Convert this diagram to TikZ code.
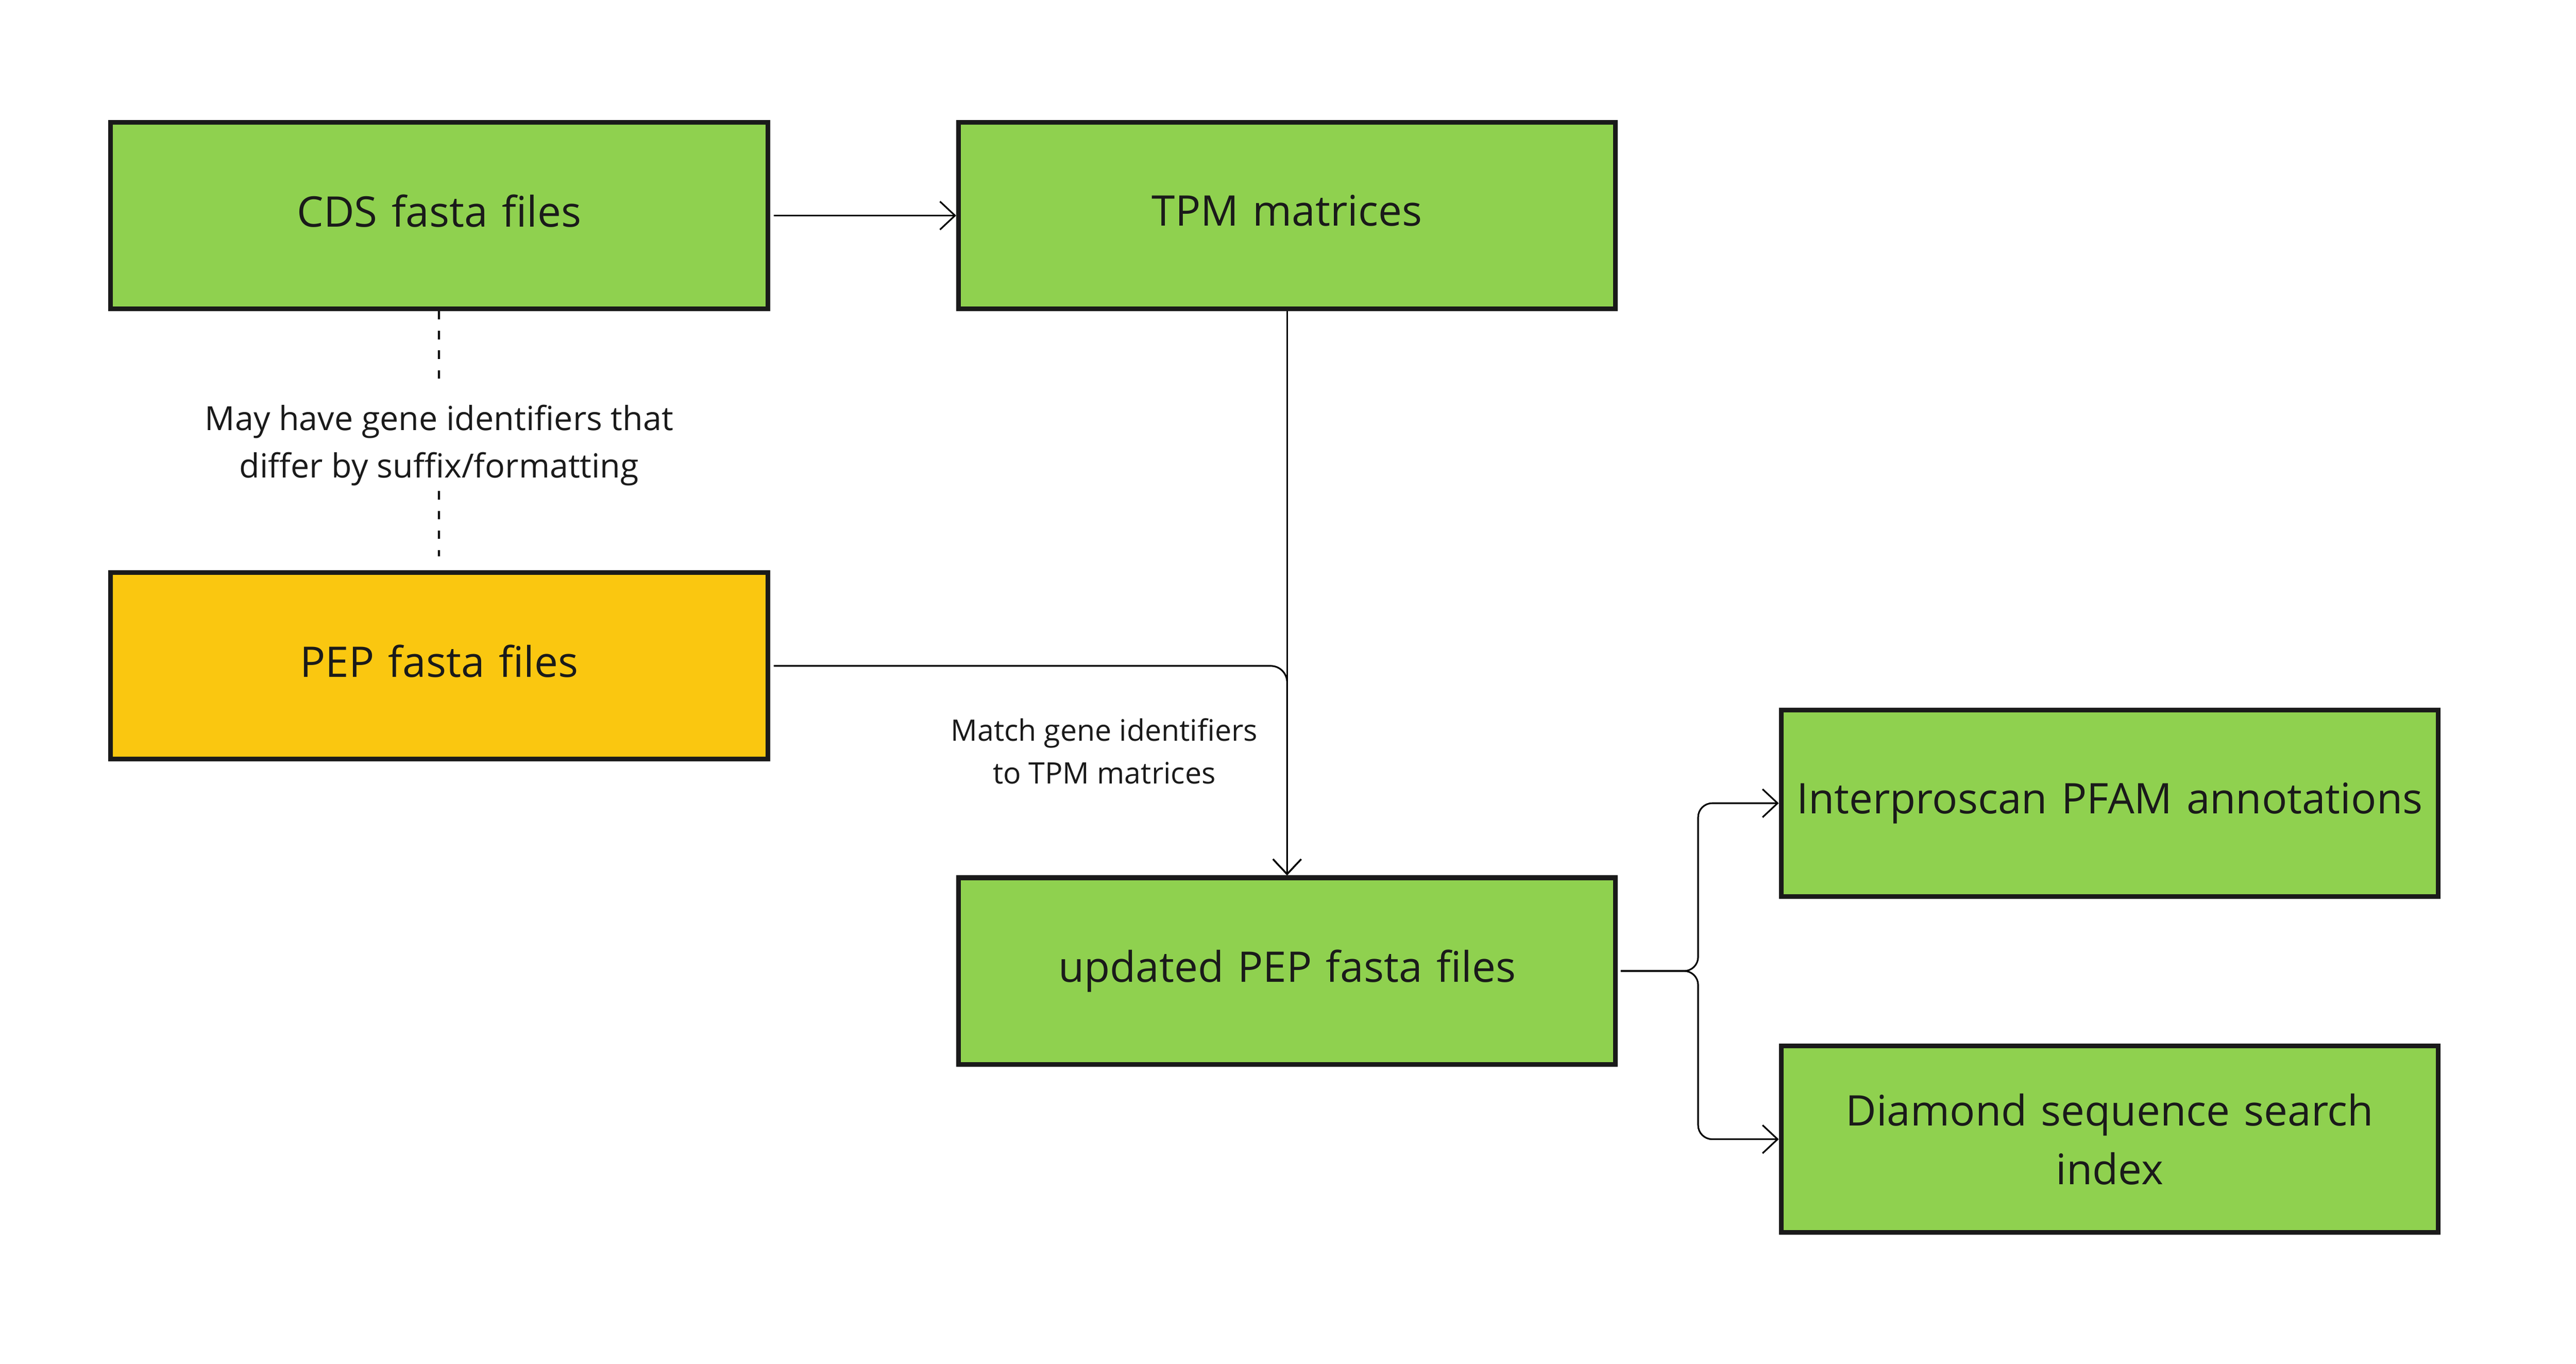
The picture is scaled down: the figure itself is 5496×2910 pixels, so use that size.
\documentclass[tikz,border=0pt]{standalone}
\usepackage{fontspec}
\setmainfont{Open Sans}
\usetikzlibrary{arrows.meta}
\definecolor{boxgreen}{HTML}{8FD14F}
\definecolor{boxyellow}{HTML}{FAC710}
\definecolor{ink}{HTML}{1A1A1A}
\tikzset{
  boxbase/.style={draw=ink, line width=1pt, fill=boxgreen, rectangle,
    minimum width=140.2pt, minimum height=39.8pt, inner sep=0pt,
    text width=138pt, align=center, text=ink,
    font=\fontsize{9}{12.6}\selectfont},
  stepbox/.style={boxbase, text depth=2.1pt},
  conn/.style={draw=black, line width=0.35pt},
  arr/.style={conn, -{Straight Barb[length=3.2pt,width=6pt]}},
  lbl/.style={inner sep=0pt, align=center, text=ink},
}
\begin{document}
\begin{tikzpicture}[x=0.1pt,y=-0.1pt]
\useasboundingbox (0,0) rectangle (5496,2910);
\node[stepbox] (cds) at (937,460) {CDS fasta files};
\node[stepbox] (tpm) at (2746,460) {TPM matrices};
\node[stepbox, fill=boxyellow] (pep) at (937,1421) {PEP fasta files};
\node[stepbox] (upd) at (2746,2072) {updated PEP fasta files};
\node[stepbox] (interp) at (4501,1714) {Interproscan PFAM annotations};
\node[boxbase] (diam) at (4501,2431) {Diamond sequence search\\index};

\node[lbl, font=\fontsize{7.1}{10.1}\selectfont] (note) at (937,950) {May have gene identifiers that\\differ by suffix/formatting};
\node[lbl, font=\fontsize{6.3}{9.2}\selectfont] (match) at (2356,1603) {Match gene identifiers\\to TPM matrices};

\coordinate (d1) at (937,811);
\coordinate (d2) at (937,1048);
\coordinate (split) at (3623,2072);

\draw[conn, line width=0.45pt, dash pattern=on 1.8pt off 2.4pt] (cds.south) -- (d1);
\draw[conn, line width=0.45pt, dash pattern=on 1.8pt off 2.4pt] (d2) -- ([yshift=3pt]pep.north);

\draw[arr, shorten <=0.8pt] (cds.east) -- (tpm.west);
\draw[arr] (tpm.south) -- (upd.north);
\draw[arr, rounded corners=3.5pt, shorten <=0.8pt] (pep.east) -| (upd.north);
\draw[arr, rounded corners=3pt, shorten <=0.6pt] (upd.east) -- (split) |- (interp.west);
\draw[arr, rounded corners=3pt, shorten <=0.6pt] (upd.east) -- (split) |- (diam.west);
\end{tikzpicture}
\end{document}
